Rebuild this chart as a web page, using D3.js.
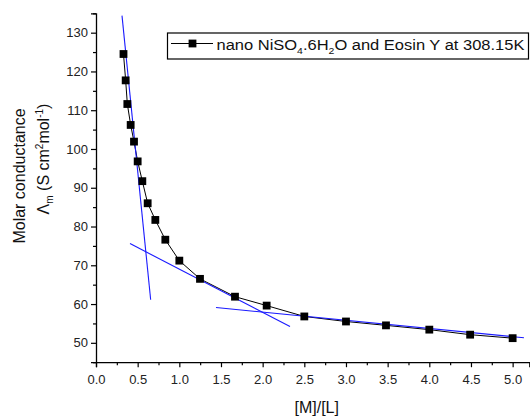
<!DOCTYPE html>
<html><head><meta charset="utf-8">
<script src="https://cdn.jsdelivr.net/npm/d3@7"></script>
<style>body{margin:0;background:#fff}svg{display:block}text{font-family:Arial,"Liberation Sans",sans-serif}</style>
</head><body><svg id="c" width="530" height="416"></svg>
<script>
const ratio = [0.33,0.356,0.376,0.416,0.456,0.5,0.556,0.62,0.712,0.832,1.0,1.248,1.668,2.048,2.5,3.0,3.48,4.0,4.49,5.0];
const conductance = [124.5,117.7,111.6,106.2,101.9,96.8,91.7,86.0,81.7,76.6,71.2,66.5,61.9,59.6,56.8,55.5,54.5,53.4,52.1,51.2];
const tangent1 = [[0.312,134.4],[0.656,61.1]];
const tangent2 = [[0.408,75.6],[2.328,54.2]];
const tangent3 = [[1.44,59.1],[5.136,51.3]];
const xTicks = [0,0.5,1,1.5,2,2.5,3,3.5,4,4.5,5];
const yTicks = [50,60,70,80,90,100,110,120,130];
const xMinor = [0.25,0.75,1.25,1.75,2.25,2.75,3.25,3.75,4.25,4.75];
const yMinor = [45,55,65,75,85,95,105,115,125,135];

const svg = d3.select("#c");
const x = d3.scaleLinear().domain([0,5.2]).range([96,529.3]);
const y = d3.scaleLinear().domain([45,135]).range([362.2,13.3]);

// axes
const xa = svg.append("g").attr("transform",`translate(0,${y(45)})`)
  .call(d3.axisBottom(x).tickValues(xTicks).tickFormat(d3.format(".1f")).tickSize(5).tickPadding(4));
svg.append("g").attr("transform",`translate(0,${y(45)})`)
  .call(d3.axisBottom(x).tickValues(xMinor).tickFormat("").tickSize(3)).select(".domain").remove();
const ya = svg.append("g").attr("transform",`translate(${x(0)},0)`)
  .call(d3.axisLeft(y).tickValues(yTicks).tickFormat(d3.format("d")).tickSize(5).tickPadding(3));
svg.append("g").attr("transform",`translate(${x(0)},0)`)
  .call(d3.axisLeft(y).tickValues(yMinor).tickFormat("").tickSize(3)).select(".domain").remove();
svg.selectAll(".domain").attr("stroke","#000").attr("stroke-width",1.3);
svg.selectAll(".tick line").attr("stroke","#000").attr("stroke-width",1.2);
svg.selectAll(".tick text").attr("font-size",13).attr("fill","#222").attr("font-family","Arial, 'Liberation Sans', sans-serif");
xa.selectAll(".tick text").attr("dy","0.95em");

// data line
const line = d3.line().x((d,i)=>x(ratio[i])).y(d=>y(d));
svg.append("path").datum(conductance).attr("d",line).attr("fill","none").attr("stroke","#000").attr("stroke-width",1);

// tangents
const tl = d3.line().x(d=>x(d[0])).y(d=>y(d[1]));
[tangent1,tangent2,tangent3].forEach(t=>{
  svg.append("path").datum(t).attr("d",tl).attr("fill","none").attr("stroke","#1a1aff").attr("stroke-width",1.1);
});

// markers
const ms = 7.8;
svg.selectAll("rect.m").data(conductance).enter().append("rect").attr("class","m")
  .attr("x",(d,i)=>x(ratio[i])-ms/2).attr("y",d=>y(d)-ms/2).attr("width",ms).attr("height",ms).attr("fill","#000");

// legend
svg.append("rect").attr("x",167.5).attr("y",33).attr("width",361).attr("height",26)
  .attr("fill","#fff").attr("stroke","#000").attr("stroke-width",1.2);
svg.append("line").attr("x1",171).attr("x2",213).attr("y1",43.5).attr("y2",43.5).attr("stroke","#000").attr("stroke-width",1);
svg.append("rect").attr("x",192.5-ms/2).attr("y",43.5-ms/2).attr("width",ms).attr("height",ms).attr("fill","#000");
const lg = svg.append("g").attr("transform","translate(216.5,50) scale(1.1,1)");
const lt = lg.append("text").attr("x",0).attr("y",0).attr("font-size",15).attr("fill","#111");
lt.append("tspan").text("nano NiSO");
lt.append("tspan").text("4").attr("font-size",9.5).attr("dy",4);
lt.append("tspan").text(".6H").attr("dy",-4);
lt.append("tspan").text("2").attr("font-size",9.5).attr("dy",4);
lt.append("tspan").text("O and Eosin Y at 308.15K").attr("dy",-4);

// y title
const yt = svg.append("g").attr("transform","translate(25,176) rotate(-90)");
yt.append("text").attr("text-anchor","middle").attr("font-size",16).attr("fill","#111").text("Molar conductance");
const yt2 = svg.append("g").attr("transform","translate(49,159) rotate(-90)");
const t2 = yt2.append("text").attr("text-anchor","middle").attr("font-size",16).attr("fill","#111");
t2.append("tspan").text("Λ");
t2.append("tspan").text("m").attr("font-size",10).attr("dy",4);
t2.append("tspan").text(" (S cm").attr("dy",-4);
t2.append("tspan").text("2").attr("font-size",10).attr("dy",-6);
t2.append("tspan").text("mol").attr("dy",6);
t2.append("tspan").text("-1").attr("font-size",10).attr("dy",-6);
t2.append("tspan").text(")").attr("dy",6);

// x title
svg.append("text").attr("x",316.7).attr("y",413).attr("text-anchor","middle").attr("font-size",16).attr("fill","#111").text("[M]/[L]");
</script></body></html>
